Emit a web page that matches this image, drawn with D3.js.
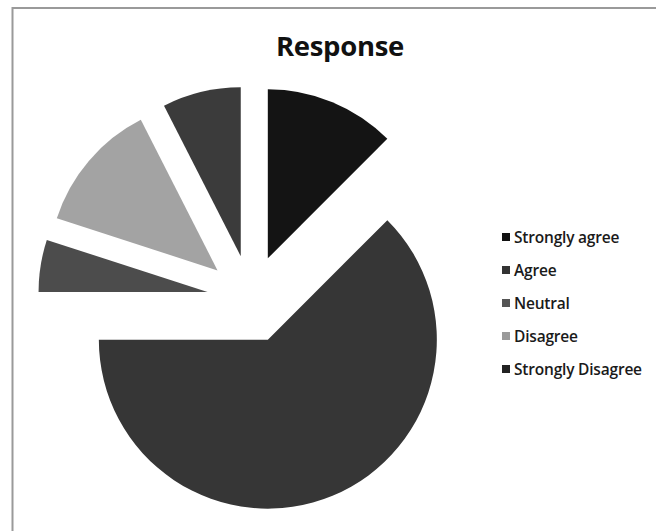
<!DOCTYPE html>
<html>
<head>
<meta charset="utf-8">
<script src="https://cdn.jsdelivr.net/npm/d3@7"></script>
<style>
    body { margin: 0; background: #fff; }
    svg { display: block; }
</style>
</head>
<body>
<div id="pie-chart"></div>
<script>
// Dữ liệu biểu đồ
const categories = ["Strongly agree", "Agree", "Neutral", "Disagree", "Strongly Disagree"];
const values = [5, 25, 2, 5, 3];
const sliceColors = ["#141414", "#363636", "#4c4c4c", "#a3a3a3", "#3b3b3b"];
const legendColors = ["#111111", "#333333", "#555555", "#9a9a9a", "#222222"];

const width = 656;
const height = 531;
const cx = 251, cy = 299;
const radius = 169;
const explode = 44;

const svg = d3.select('#pie-chart')
    .append('svg')
    .attr('width', width)
    .attr('height', height);

// Khung viền
svg.append('rect')
    .attr('x', 12.5)
    .attr('y', 8)
    .attr('width', 660)
    .attr('height', 540)
    .attr('fill', '#fff')
    .attr('stroke', '#9a9a9a')
    .attr('stroke-width', 2);

// Tiêu đề
svg.append('text')
    .attr('x', 340)
    .attr('y', 56)
    .attr('text-anchor', 'middle')
    .style('font-family', '"Open Sans", sans-serif')
    .style('font-weight', 'bold')
    .style('font-size', '27.5px')
    .style('letter-spacing', '-0.3px')
    .attr('fill', '#111')
    .text('Response');

const data = categories.map((c, i) => ({ name: c, value: values[i], color: sliceColors[i] }));

const pie = d3.pie()
    .value(d => d.value)
    .sort(null);

const arc = d3.arc()
    .innerRadius(0)
    .outerRadius(radius);

const g = svg.append('g')
    .attr('transform', `translate(${cx}, ${cy})`);

// Vẽ các lát tách rời
g.selectAll('path')
    .data(pie(data))
    .enter()
    .append('path')
    .attr('d', arc)
    .attr('fill', d => d.data.color)
    .attr('transform', d => {
        const mid = (d.startAngle + d.endAngle) / 2;
        return `translate(${Math.sin(mid) * explode}, ${-Math.cos(mid) * explode})`;
    });

// Chú giải
const legend = svg.append('g')
    .attr('transform', 'translate(502, 237)');

legend.selectAll('rect')
    .data(categories)
    .enter()
    .append('rect')
    .attr('x', 0)
    .attr('y', (d, i) => i * 33 - 4)
    .attr('width', 8)
    .attr('height', 8)
    .attr('fill', (d, i) => legendColors[i]);

legend.selectAll('text')
    .data(categories)
    .enter()
    .append('text')
    .attr('x', 12)
    .attr('y', (d, i) => i * 33)
    .attr('dominant-baseline', 'central')
    .style('font-family', '"Open Sans", sans-serif')
    .style('font-weight', '600')
    .style('font-size', '15.5px')
    .style('letter-spacing', '-0.2px')
    .attr('fill', '#1a1a1a')
    .text(d => d);
</script>
</body>
</html>
